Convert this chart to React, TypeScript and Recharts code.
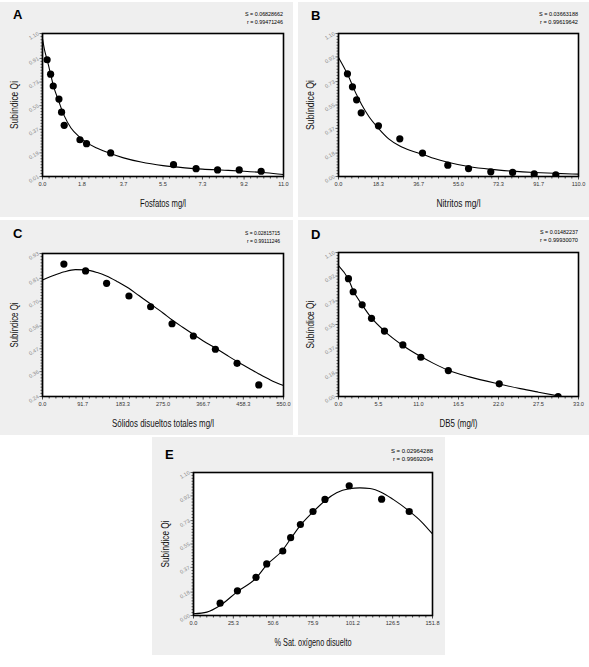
import React from 'react';
import { ComposedChart, Line, Scatter, XAxis, YAxis, CartesianGrid } from 'recharts';

// ---------- Panel A: Fosfatos ----------
const fosfatosX = [0.21, 0.37, 0.49, 0.75, 0.87, 0.99, 1.71, 2.01, 3.11, 5.98, 7.01, 7.99, 8.98, 9.98];
const fosfatosQi = [0.9, 0.79, 0.7, 0.6, 0.5, 0.4, 0.29, 0.26, 0.19, 0.1, 0.07, 0.06, 0.06, 0.05];
const fosfatosFitX = [0, 0.1, 0.21, 0.37, 0.5, 0.75, 0.9, 1.0, 1.3, 1.7, 2.0, 2.5, 3.1, 3.7, 4.5, 5.5, 6.5, 7.3, 8.3, 9.2, 10.2, 11.0];
const fosfatosFitQi = [1.06, 0.97, 0.9, 0.79, 0.7, 0.58, 0.51, 0.47, 0.38, 0.31, 0.27, 0.225, 0.185, 0.152, 0.12, 0.093, 0.076, 0.066, 0.058, 0.05, 0.038, 0.025];
const fosfatosXTicks = [0, 1.8, 3.7, 5.5, 7.3, 9.2, 11.0];
const fosfatosYTicks = [0.01, 0.19, 0.37, 0.55, 0.73, 0.91, 1.1];

// ---------- Panel B: Nitritos ----------
const nitritosX = [4.1, 6.4, 8.3, 10.4, 18.3, 28.1, 38.5, 50.1, 59.6, 69.8, 79.8, 89.7, 99.6];
const nitritosQi = [0.79, 0.69, 0.59, 0.49, 0.39, 0.29, 0.18, 0.087, 0.061, 0.036, 0.031, 0.02, 0.013];
const nitritosFitX = [0, 4.1, 8.25, 10.7, 14, 18.3, 23, 28.1, 33, 38.5, 44, 50.1, 59.6, 69.8, 79.8, 89.7, 99.6, 110];
const nitritosFitQi = [0.916, 0.788, 0.63, 0.55, 0.46, 0.371, 0.29, 0.235, 0.2, 0.171, 0.138, 0.11, 0.077, 0.055, 0.041, 0.031, 0.024, 0.018];
const nitritosXTicks = [0, 18.3, 36.7, 55.0, 73.3, 91.7, 110.0];
const nitritosYTicks = [0, 0.18, 0.37, 0.55, 0.73, 0.92, 1.1];

// ---------- Panel C: Solidos disueltos totales ----------
const solidosX = [48.8, 98.3, 146.3, 197.3, 246.8, 295.6, 344.3, 394.6, 444.1, 493.6];
const solidosQi = [0.879, 0.846, 0.786, 0.725, 0.673, 0.591, 0.532, 0.468, 0.4, 0.296];
const solidosFitX = [0, 25, 50, 75, 98, 125, 146, 170, 197, 220, 247, 275, 296, 320, 344, 367, 395, 420, 444, 470, 494, 520, 550];
const solidosFitQi = [0.802, 0.824, 0.842, 0.852, 0.851, 0.838, 0.821, 0.795, 0.762, 0.727, 0.686, 0.643, 0.609, 0.574, 0.54, 0.508, 0.473, 0.44, 0.409, 0.378, 0.349, 0.32, 0.293];
const solidosXTicks = [0, 91.7, 183.3, 275.0, 366.7, 458.3, 550.0];
const solidosYTicks = [0.24, 0.36, 0.47, 0.58, 0.7, 0.81, 0.93];

// ---------- Panel D: DB5 ----------
const dboX = [1.37, 2.02, 3.25, 4.54, 6.32, 8.85, 11.32, 15.1, 22.1, 30.2];
const dboQi = [0.9, 0.8, 0.7, 0.597, 0.5, 0.394, 0.3, 0.198, 0.097, 0.0];
const dboFitX = [0, 1.37, 2.02, 3.25, 4.54, 6.32, 8.85, 11.32, 13, 15.1, 18, 22.1, 25, 27.5, 30.2];
const dboFitQi = [1.0, 0.895, 0.81, 0.7, 0.6, 0.5, 0.39, 0.305, 0.255, 0.2, 0.15, 0.095, 0.06, 0.033, 0.005];
const dboXTicks = [0, 5.5, 11.0, 16.5, 22.0, 27.5, 33.0];
const dboYTicks = [0, 0.18, 0.37, 0.55, 0.73, 0.92, 1.1];

// ---------- Panel E: % Sat. oxigeno disuelto ----------
const oxigenoX = [16.9, 27.9, 39.7, 46.5, 56.7, 61.7, 67.9, 75.9, 83.5, 98.9, 119.5, 137.0];
const oxigenoQi = [0.095, 0.19, 0.294, 0.397, 0.496, 0.599, 0.7, 0.8, 0.893, 0.998, 0.895, 0.8];
const oxigenoFitX = [0, 8.5, 16.9, 27.9, 39.7, 46.5, 56.7, 61.7, 67.9, 75.9, 83.5, 90.9, 98.9, 105.7, 112.1, 119.5, 126.8, 137.0, 144.8, 151.8];
const oxigenoFitQi = [0.013, 0.026, 0.077, 0.184, 0.287, 0.389, 0.504, 0.59, 0.693, 0.796, 0.883, 0.944, 0.975, 0.982, 0.977, 0.947, 0.893, 0.803, 0.721, 0.627];
const oxigenoXTicks = [0, 25.3, 50.6, 75.9, 101.2, 126.5, 151.8];
const oxigenoYTicks = [0, 0.18, 0.37, 0.55, 0.73, 0.92, 1.1];

const FONT = '"Liberation Sans", Arial, sans-serif';
const Y_AXIS_W = 30;
const X_AXIS_H = 30;

const zip = (xs: number[], ys: number[]) => xs.map((x, i) => ({ x, y: ys[i] }));

const subdivide = (majors: number[], n: number) => {
  const out: number[] = [];
  for (let i = 0; i < majors.length - 1; i++) {
    for (let k = 0; k < n; k++) out.push(majors[i] + ((majors[i + 1] - majors[i]) * k) / n);
  }
  out.push(majors[majors.length - 1]);
  return out;
};

const isMajor = (majors: number[], v: number) => majors.some((m) => Math.abs(m - v) < 1e-6);

const XTick = (props: any) => {
  const { x, y, payload, majors } = props;
  const v = payload.value;
  const major = isMajor(majors, v);
  return (
    <g>
      <line x1={x} x2={x} y1={y} y2={y + (major ? 3 : 2)} stroke="#000" strokeWidth={0.7} />
      {major && (
        <text x={x} y={y + 9.5} textAnchor="middle" fontSize={5.6} fill="#333" fontFamily={FONT}>
          {v.toFixed(1)}
        </text>
      )}
    </g>
  );
};

const YTick = (props: any) => {
  const { x, y, payload, majors } = props;
  const v = payload.value;
  const major = isMajor(majors, v);
  const tx = x - 4;
  return (
    <g>
      <line x1={x} x2={x - (major ? 3 : 2)} y1={y} y2={y} stroke="#000" strokeWidth={0.6} />
      {major && (
        <text
          x={tx}
          y={y + 1.5}
          textAnchor="end"
          fontSize={5.4}
          fill="#888"
          fontFamily={FONT}
          transform={`rotate(-30 ${tx} ${y})`}
        >
          {v.toFixed(2)}
        </text>
      )}
    </g>
  );
};

const XTitle = (props: any) => {
  const { viewBox, text, len } = props;
  const cx = viewBox.x + viewBox.width / 2;
  return (
    <text
      x={cx}
      y={viewBox.y + 30}
      textAnchor="middle"
      fontSize={11}
      fill="#111"
      fontFamily={FONT}
      textLength={len}
      lengthAdjust="spacingAndGlyphs"
    >
      {text}
    </text>
  );
};

const YTitle = (props: any) => {
  const { viewBox, text, len } = props;
  const px = viewBox.x + viewBox.width - 24.5;
  const cy = viewBox.y + viewBox.height / 2;
  return (
    <text
      x={px}
      y={cy}
      textAnchor="middle"
      fontSize={10.5}
      fill="#111"
      fontFamily={FONT}
      textLength={len}
      lengthAdjust="spacingAndGlyphs"
      transform={`rotate(-90 ${px} ${cy})`}
    >
      {text}
    </text>
  );
};

const Dot = (props: any) => <circle cx={props.cx} cy={props.cy} r={3.6} fill="#000" />;

type PanelProps = {
  letter: string;
  statS: string;
  statR: string;
  statLens: [number, number];
  statX: number;
  statY: number;
  letterY: number;
  xTitle: string;
  xTitleLen: number;
  yTitleLen: number;
  xTicks: number[];
  yTicks: number[];
  points: { x: number; y: number }[];
  curve: { x: number; y: number }[];
  left: number;
  top: number;
  width: number;
  height: number;
  margin: { top: number; right: number; bottom: number; left: number };
};

const Panel = (p: PanelProps) => {
  const xd: [number, number] = [p.xTicks[0], p.xTicks[p.xTicks.length - 1]];
  const yd: [number, number] = [p.yTicks[0], p.yTicks[p.yTicks.length - 1]];
  const m = p.margin;
  const plotX = m.left + Y_AXIS_W;
  const plotY = m.top;
  const plotW = p.width - m.left - m.right - Y_AXIS_W;
  const plotH = p.height - m.top - m.bottom - X_AXIS_H;
  return (
    <div
      style={{
        position: 'absolute',
        left: p.left,
        top: p.top,
        width: p.width,
        height: p.height,
        background: '#efefef',
      }}
    >
      <ComposedChart width={p.width} height={p.height} margin={p.margin}>
        <CartesianGrid fill="#ffffff" horizontal={false} vertical={false} stroke="none" />
        <XAxis
          type="number"
          dataKey="x"
          domain={xd}
          ticks={subdivide(p.xTicks, 6)}
          interval={0}
          allowDataOverflow
          height={X_AXIS_H}
          tickSize={0}
          tickMargin={0}
          tickLine={false}
          axisLine={{ stroke: '#000', strokeWidth: 1.2 }}
          tick={<XTick majors={p.xTicks} />}
          label={<XTitle text={p.xTitle} len={p.xTitleLen} />}
        />
        <YAxis
          type="number"
          dataKey="y"
          domain={yd}
          ticks={subdivide(p.yTicks, 8)}
          interval={0}
          allowDataOverflow
          width={Y_AXIS_W}
          tickSize={0}
          tickMargin={0}
          tickLine={false}
          axisLine={{ stroke: '#000', strokeWidth: 1.2 }}
          tick={<YTick majors={p.yTicks} />}
          label={<YTitle text="Subíndice Qi" len={p.yTitleLen} />}
        />
        <Line
          data={p.curve}
          dataKey="y"
          type="monotone"
          stroke="#000"
          strokeWidth={1.1}
          dot={false}
          activeDot={false}
          isAnimationActive={false}
        />
        <Scatter data={p.points} dataKey="y" fill="#000" shape={<Dot />} isAnimationActive={false} />
      </ComposedChart>
      <svg
        width={p.width}
        height={p.height}
        style={{ position: 'absolute', left: 0, top: 0, pointerEvents: 'none', zIndex: 5 }}
      >
        <rect x={plotX} y={plotY} width={plotW} height={plotH} fill="none" stroke="#000" strokeWidth={1.6} />
        <text x={13} y={p.letterY} fontSize={13} fontWeight="bold" fill="#000" fontFamily={FONT}>
          {p.letter}
        </text>
        <text
          x={p.statX}
          y={p.statY}
          textAnchor="end"
          fontSize={6.2}
          fill="#000"
          fontFamily={FONT}
          textLength={p.statLens[0]}
          lengthAdjust="spacingAndGlyphs"
        >
          {p.statS}
        </text>
        <text
          x={p.statX}
          y={p.statY + 7.5}
          textAnchor="end"
          fontSize={6.2}
          fill="#000"
          fontFamily={FONT}
          textLength={p.statLens[1]}
          lengthAdjust="spacingAndGlyphs"
        >
          {p.statR}
        </text>
      </svg>
    </div>
  );
};

export default function App() {
  return (
    <div style={{ position: 'absolute', left: 0, top: 0, width: 589, height: 667, background: '#fff' }}>
      <Panel
        letter="A"
        statS="S = 0.06828662"
        statR="r = 0.99471246"
        statLens={[38, 36]}
        statX={283}
        statY={14}
        letterY={17}
        xTitle="Fosfatos mg/l"
        xTitleLen={46}
        yTitleLen={48}
        xTicks={fosfatosXTicks}
        yTicks={fosfatosYTicks}
        points={zip(fosfatosX, fosfatosQi)}
        curve={zip(fosfatosFitX, fosfatosFitQi)}
        left={0}
        top={2}
        width={293}
        height={215}
        margin={{ top: 31.5, right: 9.5, bottom: 10.5, left: 12.5 }}
      />
      <Panel
        letter="B"
        statS="S = 0.03663188"
        statR="r = 0.99619642"
        statLens={[39, 38]}
        statX={280}
        statY={14}
        letterY={18}
        xTitle="Nitritos mg/l"
        xTitleLen={44}
        yTitleLen={50}
        xTicks={nitritosXTicks}
        yTicks={nitritosYTicks}
        points={zip(nitritosX, nitritosQi)}
        curve={zip(nitritosFitX, nitritosFitQi)}
        left={298}
        top={2}
        width={291}
        height={215}
        margin={{ top: 31.5, right: 10.5, bottom: 10.5, left: 10.5 }}
      />
      <Panel
        letter="C"
        statS="S = 0.02815715"
        statR="r = 0.99111246"
        statLens={[35, 33]}
        statX={280}
        statY={15}
        letterY={18}
        xTitle="Sólidos disueltos totales mg/l"
        xTitleLen={102}
        yTitleLen={45}
        xTicks={solidosXTicks}
        yTicks={solidosYTicks}
        points={zip(solidosX, solidosQi)}
        curve={zip(solidosFitX, solidosFitQi)}
        left={0}
        top={220}
        width={293}
        height={215}
        margin={{ top: 33.5, right: 9.5, bottom: 8.5, left: 12.5 }}
      />
      <Panel
        letter="D"
        statS="S = 0.01482237"
        statR="r = 0.99930070"
        statLens={[38, 38]}
        statX={280}
        statY={14}
        letterY={19}
        xTitle="DB5 (mg/l)"
        xTitleLen={38}
        yTitleLen={48}
        xTicks={dboXTicks}
        yTicks={dboYTicks}
        points={zip(dboX, dboQi)}
        curve={zip(dboFitX, dboFitQi)}
        left={298}
        top={220}
        width={291}
        height={215}
        margin={{ top: 32.5, right: 10.5, bottom: 8.5, left: 10.5 }}
      />
      <Panel
        letter="E"
        statS="S = 0.02964288"
        statR="r = 0.99692094"
        statLens={[42, 40]}
        statX={281}
        statY={16}
        letterY={22}
        xTitle="% Sat. oxígeno disuelto"
        xTitleLen={77}
        yTitleLen={47}
        xTicks={oxigenoXTicks}
        yTicks={oxigenoYTicks}
        points={zip(oxigenoX, oxigenoQi)}
        curve={zip(oxigenoFitX, oxigenoFitQi)}
        left={152}
        top={437}
        width={293}
        height={218}
        margin={{ top: 35.5, right: 12.5, bottom: 9.5, left: 11.5 }}
      />
    </div>
  );
}
